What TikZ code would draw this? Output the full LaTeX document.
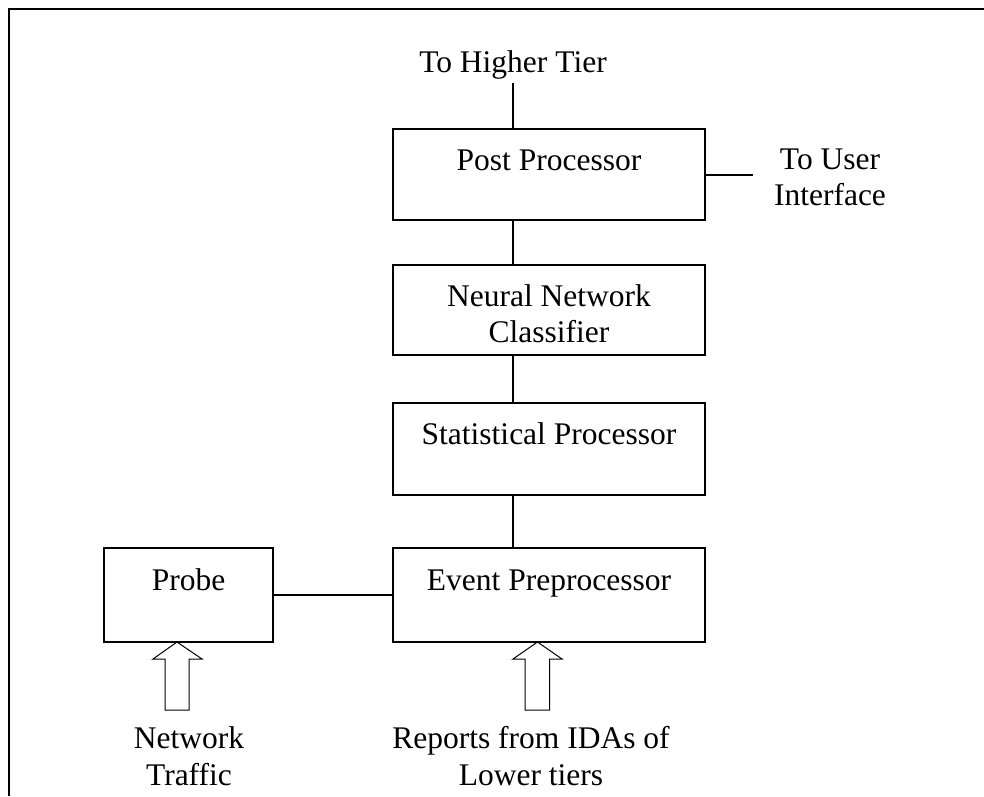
\documentclass[tikz,border=0pt]{standalone}
\usepackage{fontspec}
\setmainfont{Liberation Serif}
\begin{document}
\begin{tikzpicture}[x=1pt,y=-1pt,
  box/.style={draw,line width=2pt,rectangle,inner sep=0pt},
  txt/.style={inner sep=0pt,anchor=base,font=\fontsize{31.5}{36}\selectfont},
  conn/.style={line width=2pt},
  blockarrow/.style={draw,line width=1pt,line join=miter},
  frameline/.style={line width=2.5pt}]
\useasboundingbox (0,0) rectangle (984,796);
% frame (left and top only)
\draw[frameline] (9,796) -- (9,9) -- (984,9);
% boxes
\node[box,minimum width=312pt,minimum height=91pt] (post) at (549,174.5) {};
\node[box,minimum width=312pt,minimum height=90pt] (nn) at (549,310) {};
\node[box,minimum width=312pt,minimum height=92pt] (stat) at (549,449) {};
\node[box,minimum width=312pt,minimum height=94pt] (event) at (549,595) {};
\node[box,minimum width=169pt,minimum height=94pt] (probe) at (188.5,595) {};
% texts
\node[txt] (tpost) at (549,170) {Post Processor};
\node[txt] (tnn1) at (549,306) {Neural Network};
\node[txt] (tnn2) at (549,342) {Classifier};
\node[txt] (tstat) at (549,444) {Statistical Processor};
\node[txt] (tevent) at (549,590) {Event Preprocessor};
\node[txt] (tprobe) at (188.5,590) {Probe};
\node[txt] (thigh) at (513,72) {To Higher Tier};
\node[txt] (tuser1) at (830,169) {To User};
\node[txt] (tuser2) at (830,205) {Interface};
\node[txt] (tnet1) at (189,748) {Network};
\node[txt] (tnet2) at (189,785) {Traffic};
\node[txt] (trep1) at (531,748) {Reports from IDAs of};
\node[txt] (trep2) at (531,785) {Lower tiers};
% connectors
\coordinate (hiend) at (513,83);
\coordinate (userend) at (753,174.5);
\draw[conn] ([xshift=-36pt]post.north) -- (hiend);
\draw[conn] (post.east) -- (userend);
\draw[conn] ([xshift=-36pt]post.south) -- ([xshift=-36pt]nn.north);
\draw[conn] ([xshift=-36pt]nn.south) -- ([xshift=-36pt]stat.north);
\draw[conn] ([xshift=-36pt]stat.south) -- ([xshift=-36pt]event.north);
\draw[conn] (probe.east) -- (event.west);
% block arrows
\draw[blockarrow] (177,642) -- (202,659) -- (189,659) -- (189,710) -- (165,710) -- (165,659) -- (153,659) -- cycle;
\draw[blockarrow] (537.5,642) -- (562,659) -- (549.5,659) -- (549.5,710) -- (525,710) -- (525,659) -- (513,659) -- cycle;
\end{tikzpicture}
\end{document}
